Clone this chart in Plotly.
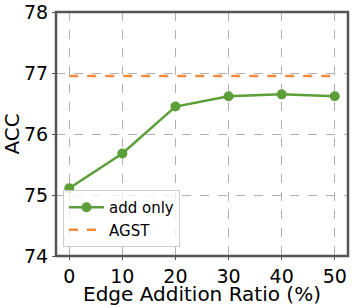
import plotly.graph_objects as go

ratios = [0, 10, 20, 30, 40, 50]
add_only = [75.11, 75.68, 76.45, 76.62, 76.65, 76.62]
agst_value = 76.95
x_ticks = [0, 10, 20, 30, 40, 50]
y_ticks = [74, 75, 76, 77, 78]

green = "#5c9e38"
orange = "#f08a3c"
font = "DejaVu Sans"

fig = go.Figure()
fig.add_trace(go.Scatter(
    x=ratios, y=add_only, mode="lines+markers", name="add only",
    line=dict(color=green, width=2.5), marker=dict(size=10, color=green),
))
fig.add_trace(go.Scatter(
    x=[ratios[0], ratios[-1]], y=[agst_value, agst_value], mode="lines", name="AGST",
    line=dict(color=orange, width=2.5, dash="dash"),
))

axis_common = dict(
    showgrid=True, gridcolor="#b0b0b0", griddash="dash", gridwidth=1.2,
    zeroline=False, showline=False, ticks="outside", ticklen=3, tickcolor="#555",
    tickfont=dict(family=font, size=19, color="black"),
)
fig.update_xaxes(range=[-2.5, 52.5], tickvals=x_ticks, **axis_common,
                 title=dict(text="Edge Addition Ratio (%)", font=dict(family=font, size=20, color="black"), standoff=0))
fig.update_yaxes(range=[74, 78], tickvals=y_ticks, **axis_common,
                 title=dict(text="ACC", font=dict(family=font, size=20, color="black"), standoff=2))

fig.add_shape(type="rect", xref="paper", yref="paper", x0=0, x1=1, y0=0, y1=1,
              line=dict(color="#555555", width=2.5), fillcolor="rgba(0,0,0,0)")

fig.update_layout(
    width=353, height=306,
    margin=dict(l=56, r=5, t=12, b=50, autoexpand=False),
    plot_bgcolor="white", paper_bgcolor="white",
    font=dict(family=font, color="black"),
    legend=dict(x=0.024, y=0.037, xanchor="left", yanchor="bottom",
                bgcolor="rgba(255,255,255,0.8)", bordercolor="#cccccc", borderwidth=1,
                font=dict(family=font, size=15, color="black"), tracegroupgap=2,
                itemwidth=35),
    showlegend=True,
)

fig.write_html("out.html", config={"displayModeBar": False},
               post_script="document.body.style.margin='0';document.body.style.overflow='hidden';")
